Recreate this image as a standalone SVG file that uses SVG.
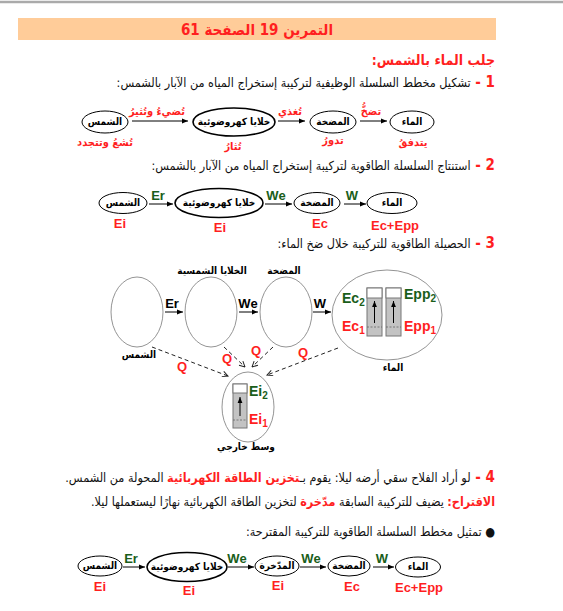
<svg xmlns="http://www.w3.org/2000/svg" width="563" height="611" viewBox="0 0 563 611">
<style>
.ar{font-family:'DejaVu Sans Condensed','DejaVu Sans','Liberation Sans',sans-serif;direction:rtl;unicode-bidi:embed}
.lt{font-family:'Liberation Sans',Arial,sans-serif}
.body{font-size:12.5px;fill:#111}
.red{fill:#ff1f1f}
.grn{fill:#1a5e1a}
.b{font-weight:bold}
.node{fill:#fff;stroke:#000;stroke-width:1}
.thick{stroke-width:1.6}
.nt{font-size:10px;font-weight:bold;fill:#000;text-anchor:middle}
.vl{font-size:11px;font-weight:bold;fill:#ff1f1f;text-anchor:middle}
.el{font-size:13px;font-weight:bold;text-anchor:middle}
.conn{stroke:#000;stroke-width:1;fill:none}
.dash{stroke:#222;stroke-width:1;stroke-dasharray:4,3;fill:none}
.big{fill:#fff;stroke:#888;stroke-width:0.9}
.bar{fill:#c3c3c3;stroke:#777;stroke-width:1}
.bartop{fill:#fff;stroke:#777;stroke-width:1}
.lvl{stroke:#666;stroke-width:0.8;stroke-dasharray:2,1.5}
.sub{font-size:14px;font-weight:bold}
</style>
<defs>
<marker id="ah" viewBox="0 0 10 10" refX="10" refY="5" markerWidth="6" markerHeight="6" orient="auto" markerUnits="userSpaceOnUse"><path d="M0,1 L10,5 L0,9 z" fill="#000"/></marker>
<marker id="oh" viewBox="0 0 10 10" refX="9" refY="5" markerWidth="7" markerHeight="7" orient="auto" markerUnits="userSpaceOnUse"><path d="M1,1 L9,5 L1,9" fill="none" stroke="#222" stroke-width="1.4"/></marker>
</defs>
<rect width="563" height="611" fill="#fff"/>
<line x1="0" y1="2" x2="563" y2="2" stroke="#aaa" stroke-width="2.5"/>
<rect x="18" y="18" width="478" height="22" fill="#ffcc99"/>
<text class="ar b red" x="257" y="35" font-size="15" text-anchor="middle">التمرين 19 الصفحة 61</text>

<text class="ar b red" x="495" y="65" font-size="14" text-anchor="start">جلب الماء بالشمس:</text>
<text class="ar body" x="495" y="87" text-anchor="start" font-size="12"><tspan class="red b" font-size="15">1 - </tspan>تشكيل مخطط السلسلة الوظيفية لتركيبة إستخراج المياه من الآبار بالشمس:</text>

<!-- Chain 1 -->
<g id="c1-sun"><ellipse class="node" cx="105" cy="122" rx="23" ry="11"/><text class="ar nt" x="105" y="125">الشمس</text><text class="ar vl" x="105" y="146">تُشعُ وتتجدد</text></g>
<g id="c1-cells"><ellipse class="node thick" cx="234" cy="122" rx="41" ry="14"/><text class="ar nt" x="234" y="125">خلايا كهروضوئية</text><text class="ar vl" x="233" y="150">تُثارُ</text></g>
<g id="c1-pump"><ellipse class="node" cx="333" cy="122" rx="23" ry="11"/><text class="ar nt" x="333" y="125">المضخة</text><text class="ar vl" x="333" y="144">تدورُ</text></g>
<g id="c1-water"><ellipse class="node" cx="412" cy="122" rx="22" ry="11"/><text class="ar nt" x="412" y="125">الماء</text><text class="ar vl" x="413" y="146">يتدفقُ</text></g>
<g id="c1-connectors">
<line class="conn" x1="132" y1="121" x2="188" y2="121" marker-end="url(#ah)"/>
<line class="conn" x1="278" y1="121" x2="305" y2="121" marker-end="url(#ah)"/>
<line class="conn" x1="360" y1="121" x2="387" y2="121" marker-end="url(#ah)"/>
<text class="ar vl" x="157" y="115">تُضيءُ وتُثيرُ</text>
<text class="ar vl" x="290" y="115">تُغذي</text>
<text class="ar vl" x="371" y="115">تضخُّ</text>
</g>

<text class="ar body" x="495" y="170" text-anchor="start" font-size="12"><tspan class="red b" font-size="15">2 - </tspan>استنتاج السلسلة الطاقوية لتركيبة إستخراج المياه من الآبار بالشمس:</text>

<!-- Chain 2 -->
<g id="c2-sun"><ellipse class="node" cx="123" cy="203" rx="24" ry="10.5"/><text class="ar nt" x="123" y="206">الشمس</text><text class="lt el red" x="120" y="228">Ei</text></g>
<g id="c2-cells"><ellipse class="node thick" cx="219" cy="203" rx="44" ry="14.5"/><text class="ar nt" x="219" y="206">خلايا كهروضوئية</text><text class="lt el red" x="220" y="232">Ei</text></g>
<g id="c2-pump"><ellipse class="node" cx="317" cy="203" rx="23" ry="10.5"/><text class="ar nt" x="317" y="206">المضخة</text><text class="lt el red" x="320" y="228">Ec</text></g>
<g id="c2-water"><ellipse class="node" cx="392" cy="203" rx="25" ry="10.5"/><text class="ar nt" x="392" y="206">الماء</text><text class="lt el red" x="395" y="230">Ec+Epp</text></g>
<g id="c2-connectors">
<line class="conn" x1="149" y1="204" x2="173" y2="204" marker-end="url(#ah)"/>
<line class="conn" x1="265" y1="204" x2="292" y2="204" marker-end="url(#ah)"/>
<line class="conn" x1="344" y1="204" x2="366" y2="204" marker-end="url(#ah)"/>
<text class="lt el grn" x="158" y="200">Er</text>
<text class="lt el grn" x="276" y="200">We</text>
<text class="lt el grn" x="352" y="200">W</text>
</g>

<text class="ar body" x="495" y="248" text-anchor="start"><tspan class="red b" font-size="15">3 - </tspan>الحصيلة الطاقوية للتركيبة خلال ضخ الماء:</text>

<!-- Section 3 -->
<g id="s3-sun"><ellipse class="big" cx="137" cy="312" rx="26" ry="35"/><text class="ar nt" x="139" y="358">الشمس</text></g>
<g id="s3-cells"><ellipse class="big" cx="211" cy="312" rx="26" ry="35"/><text class="ar nt" x="212" y="274">الخلايا الشمسية</text></g>
<g id="s3-pump"><ellipse class="big" cx="286" cy="312" rx="26" ry="35"/><text class="ar nt" x="284" y="274">المضخة</text></g>
<g id="s3-water"><ellipse class="big" cx="387" cy="315" rx="55" ry="45"/>
<rect class="bar" x="367" y="288" width="15" height="48"/><rect class="bartop" x="367" y="288" width="15" height="10"/>
<line class="lvl" x1="367" y1="327" x2="382" y2="327"/>
<line class="conn" x1="374.5" y1="323" x2="374.5" y2="301" marker-end="url(#ah)"/>
<rect class="bar" x="386" y="288" width="15" height="48"/><rect class="bartop" x="386" y="288" width="15" height="10"/>
<line class="lvl" x1="386" y1="327" x2="401" y2="327"/>
<line class="conn" x1="393.5" y1="323" x2="393.5" y2="301" marker-end="url(#ah)"/>
<text class="lt grn sub" x="342" y="303">Ec<tspan font-size="10" dy="3">2</tspan></text>
<text class="lt red sub" x="342" y="331">Ec<tspan font-size="10" dy="3">1</tspan></text>
<text class="lt grn sub" x="404" y="299">Epp<tspan font-size="10" dy="3">2</tspan></text>
<text class="lt red sub" x="404" y="331">Epp<tspan font-size="10" dy="3">1</tspan></text>
<text class="ar nt" x="393" y="371">الماء</text></g>
<g id="s3-ext"><ellipse class="big" cx="248" cy="407" rx="26" ry="35"/>
<rect class="bar" x="233" y="384" width="14" height="44"/><rect class="bartop" x="233" y="384" width="14" height="9"/>
<line class="lvl" x1="233" y1="420" x2="247" y2="420"/>
<line class="conn" x1="240" y1="416" x2="240" y2="397" marker-end="url(#ah)"/>
<text class="lt grn sub" x="249" y="396">Ei<tspan font-size="10" dy="3">2</tspan></text>
<text class="lt red sub" x="249" y="424">Ei<tspan font-size="10" dy="3">1</tspan></text>
<text class="ar nt" x="246" y="450">وسط خارجي</text></g>
<g id="s3-connectors">
<line class="conn" x1="165" y1="312" x2="183" y2="312" marker-end="url(#ah)"/>
<line class="conn" x1="239" y1="312" x2="258" y2="312" marker-end="url(#ah)"/>
<line class="conn" x1="313" y1="312" x2="331" y2="312" marker-end="url(#ah)"/>
<text class="lt b" x="172" y="308" font-size="13" text-anchor="middle">Er</text>
<text class="lt b" x="248" y="308" font-size="13" text-anchor="middle">We</text>
<text class="lt b" x="320" y="308" font-size="13" text-anchor="middle">W</text>
<line class="dash" x1="152" y1="347" x2="228" y2="376" marker-end="url(#oh)"/>
<line class="dash" x1="224" y1="347" x2="245" y2="367" marker-end="url(#oh)"/>
<line class="dash" x1="273" y1="347" x2="252" y2="367" marker-end="url(#oh)"/>
<line class="dash" x1="338" y1="348" x2="267" y2="375" marker-end="url(#oh)"/>
<text class="lt el red" x="182" y="371">Q</text>
<text class="lt el red" x="227" y="363">Q</text>
<text class="lt el red" x="256" y="355">Q</text>
<text class="lt el red" x="303" y="357">Q</text>
</g>

<text class="ar body" x="495" y="482" text-anchor="start" font-size="11.8"><tspan class="red b" font-size="15">4 - </tspan>لو أراد الفلاح سقي أرضه ليلا: يقوم بـ<tspan class="red b">تخزين الطاقة الكهربائية</tspan> المحولة من الشمس.</text>
<text class="ar body" x="495" y="506" text-anchor="start"><tspan class="red b">الاقتراح:</tspan> يضيف للتركيبة السابقة <tspan class="red b">مدّخرة</tspan> لتخزين الطاقة الكهربائية نهارًا ليستعملها ليلا.</text>
<text class="ar body" x="495" y="536" text-anchor="start" font-size="11.5">● تمثيل مخطط السلسلة الطاقوية للتركيبة المقترحة:</text>

<!-- Chain 4 -->
<g id="c4-sun"><ellipse class="node" cx="100" cy="566" rx="22" ry="10"/><text class="ar nt" x="100" y="569">الشمس</text><text class="lt el red" x="100" y="591">Ei</text></g>
<g id="c4-cells"><ellipse class="node thick" cx="187" cy="567" rx="40" ry="14.5"/><text class="ar nt" x="187" y="570">خلايا كهروضوئية</text><text class="lt el red" x="189" y="595">Ei</text></g>
<g id="c4-battery"><ellipse class="node" cx="277" cy="566" rx="22" ry="10"/><text class="ar nt" x="277" y="569">المدّخرة</text><text class="lt el red" x="278" y="590">Ei</text></g>
<g id="c4-pump"><ellipse class="node" cx="349" cy="566" rx="21" ry="10"/><text class="ar nt" x="349" y="569">المضخة</text><text class="lt el red" x="352" y="591">Ec</text></g>
<g id="c4-water"><ellipse class="node" cx="418" cy="567" rx="22.5" ry="10"/><text class="ar nt" x="418" y="570">الماء</text><text class="lt el red" x="419" y="592">Ec+Epp</text></g>
<g id="c4-connectors">
<line class="conn" x1="123" y1="567" x2="145" y2="567" marker-end="url(#ah)"/>
<line class="conn" x1="228" y1="567" x2="254" y2="567" marker-end="url(#ah)"/>
<line class="conn" x1="300" y1="567" x2="326" y2="567" marker-end="url(#ah)"/>
<line class="conn" x1="373" y1="567" x2="394" y2="567" marker-end="url(#ah)"/>
<text class="lt el grn" x="131" y="563">Er</text>
<text class="lt el grn" x="237" y="563">We</text>
<text class="lt el grn" x="311" y="563">We</text>
<text class="lt el grn" x="382" y="563">W</text>
</g>
</svg>
